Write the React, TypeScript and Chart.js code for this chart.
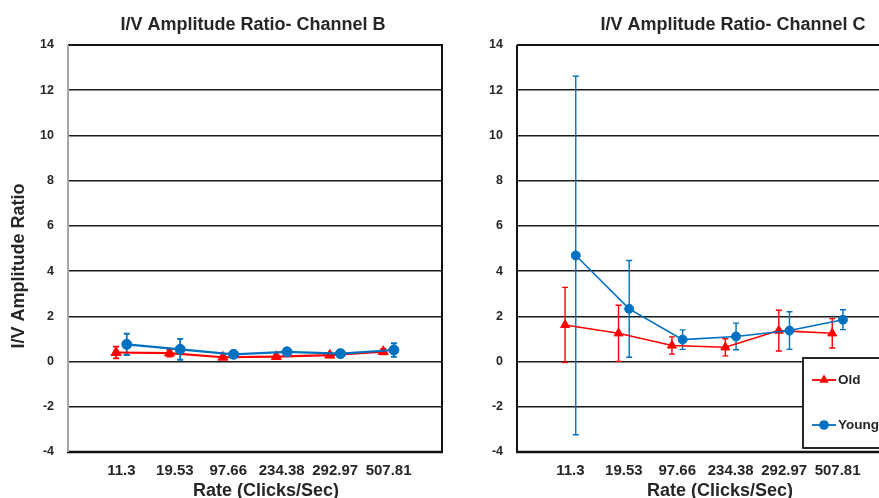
import { useEffect, useRef } from "react";
import { Chart, registerables } from "chart.js";
Chart.register(...registerables);

const rateLabels = ["11.3", "19.53", "97.66", "234.38", "292.97", "507.81"];

const oldB = [0.4, 0.37, 0.19, 0.22, 0.28, 0.44];
const oldBErr = [0.26, 0.15, 0.07, 0.07, 0.07, 0.12];
const youngB = [0.76, 0.54, 0.32, 0.43, 0.35, 0.51];
const youngBErr = [0.47, 0.46, 0.1, 0.15, 0.08, 0.3];

const oldC = [1.62, 1.25, 0.71, 0.63, 1.37, 1.25];
const oldCErr = [1.66, 1.24, 0.38, 0.38, 0.9, 0.65];
const youngC = [4.69, 2.33, 0.97, 1.11, 1.37, 1.85];
const youngCErr = [7.93, 2.14, 0.43, 0.59, 0.83, 0.44];

const RED = "#FF0000";
const BLUE = "#0070C0";
const FONT = "'Liberation Sans', Arial, sans-serif";
const TEXT = "#262626";

type TextItem = { text: string; x: number; y: number; size: number; rotate?: boolean };

type Panel = {
  left: number;
  width: number;
  axisWidth: number;
  padRight: number;
  old: number[];
  oldErr: number[];
  young: number[];
  youngErr: number[];
  leftBorder: string;
  lineWidth: number;
  circleR: number;
  triR: number;
  errWidth: number;
  texts: TextItem[];
  legend: boolean;
};

const panels: Panel[] = [
  {
    left: 0,
    width: 460,
    axisWidth: 68,
    padRight: 18,
    old: oldB,
    oldErr: oldBErr,
    young: youngB,
    youngErr: youngBErr,
    leftBorder: "#a6a6a6",
    lineWidth: 2.2,
    circleR: 5,
    triR: 5.8,
    errWidth: 1.8,
    texts: [
      { text: "I/V Amplitude Ratio- Channel B", x: 253, y: 25, size: 18 },
      { text: "I/V Amplitude Ratio", x: 19, y: 266, size: 18, rotate: true },
      { text: "Rate (Clicks/Sec)", x: 266, y: 491, size: 18 },
    ],
    legend: false,
  },
  {
    left: 460,
    width: 460,
    axisWidth: 57,
    padRight: 29,
    old: oldC,
    oldErr: oldCErr,
    young: youngC,
    youngErr: youngCErr,
    leftBorder: "#111",
    lineWidth: 1.6,
    circleR: 4.5,
    triR: 5.2,
    errWidth: 1.4,
    texts: [
      { text: "I/V Amplitude Ratio- Channel C", x: 273, y: 25, size: 18 },
      { text: "Rate (Clicks/Sec)", x: 260, y: 491, size: 18 },
    ],
    legend: true,
  },
];

function triPath(ctx: CanvasRenderingContext2D, x: number, y: number, r: number) {
  ctx.beginPath();
  ctx.moveTo(x, y - r);
  ctx.lineTo(x + r * 0.866, y + r * 0.5);
  ctx.lineTo(x - r * 0.866, y + r * 0.5);
  ctx.closePath();
}

function ChartPanel({ p }: { p: Panel }) {
  const ref = useRef<HTMLCanvasElement | null>(null);
  useEffect(() => {
    const canvas = ref.current;
    if (!canvas) return;
    const errs = [p.youngErr, p.oldErr];
    const colors = [BLUE, RED];
    const decor = {
      id: "decor",
      beforeDatasetsDraw(chart: any) {
        const ctx = chart.ctx as CanvasRenderingContext2D;
        const a = chart.chartArea;
        const ys = chart.scales.y;
        ctx.save();
        ctx.lineWidth = 2;
        ctx.strokeStyle = "#111";
        ctx.beginPath();
        ctx.moveTo(a.left, a.top);
        ctx.lineTo(a.right, a.top);
        ctx.lineTo(a.right, a.bottom);
        ctx.stroke();
        ctx.lineWidth = 2.6;
        ctx.beginPath();
        ctx.moveTo(a.left - 1, a.bottom);
        ctx.lineTo(a.right + 1, a.bottom);
        ctx.stroke();
        ctx.lineWidth = 2;
        ctx.strokeStyle = p.leftBorder;
        ctx.beginPath();
        ctx.moveTo(a.left, a.top);
        ctx.lineTo(a.left, a.bottom);
        ctx.stroke();
        errs.forEach((err, di) => {
          const meta = chart.getDatasetMeta(di);
          const vals = chart.data.datasets[di].data as { x: number; y: number }[];
          ctx.strokeStyle = colors[di];
          ctx.lineWidth = p.errWidth;
          meta.data.forEach((pt: any, i: number) => {
            const x = pt.x;
            const top = ys.getPixelForValue(vals[i].y + err[i]);
            const bot = ys.getPixelForValue(vals[i].y - err[i]);
            ctx.beginPath();
            ctx.moveTo(x, top);
            ctx.lineTo(x, bot);
            ctx.moveTo(x - 3, top);
            ctx.lineTo(x + 3, top);
            ctx.moveTo(x - 3, bot);
            ctx.lineTo(x + 3, bot);
            ctx.stroke();
          });
        });
        ctx.restore();
      },
      afterDraw(chart: any) {
        const ctx = chart.ctx as CanvasRenderingContext2D;
        ctx.save();
        ctx.fillStyle = TEXT;
        ctx.textAlign = "center";
        ctx.textBaseline = "middle";
        p.texts.forEach((t) => {
          ctx.font = `bold ${t.size}px ${FONT}`;
          if (t.rotate) {
            ctx.save();
            ctx.translate(t.x, t.y);
            ctx.rotate(-Math.PI / 2);
            ctx.fillText(t.text, 0, 0);
            ctx.restore();
          } else {
            ctx.fillText(t.text, t.x, t.y);
          }
        });
        if (p.legend) {
          const bx = 343;
          const by = 358;
          ctx.fillStyle = "#fff";
          ctx.fillRect(bx, by, 110, 90);
          ctx.strokeStyle = "#111";
          ctx.lineWidth = 1.8;
          ctx.strokeRect(bx, by, 110, 90);
          const rows = [
            { label: "Old", color: RED, tri: true, y: by + 22 },
            { label: "Young", color: BLUE, tri: false, y: by + 67 },
          ];
          rows.forEach((r) => {
            ctx.strokeStyle = r.color;
            ctx.fillStyle = r.color;
            ctx.lineWidth = 1.8;
            ctx.beginPath();
            ctx.moveTo(bx + 9, r.y);
            ctx.lineTo(bx + 33, r.y);
            ctx.stroke();
            if (r.tri) {
              triPath(ctx, bx + 21, r.y, 5.4);
            } else {
              ctx.beginPath();
              ctx.arc(bx + 21, r.y, 4.8, 0, Math.PI * 2);
            }
            ctx.fill();
            ctx.fillStyle = TEXT;
            ctx.font = `bold 13.5px ${FONT}`;
            ctx.textAlign = "left";
            ctx.fillText(r.label, bx + 35, r.y);
          });
        }
        ctx.restore();
      },
    };

    const chart = new Chart(canvas, {
      type: "scatter",
      data: {
        datasets: [
          {
            label: "Young",
            data: p.young.map((y, i) => ({ x: i + 1 + 0.1, y })),
            showLine: true,
            borderColor: BLUE,
            backgroundColor: BLUE,
            borderWidth: p.lineWidth,
            pointStyle: "circle",
            pointRadius: p.circleR,
            pointBorderWidth: 1,
          },
          {
            label: "Old",
            data: p.old.map((y, i) => ({ x: i + 1 - 0.1, y })),
            showLine: true,
            borderColor: RED,
            backgroundColor: RED,
            borderWidth: p.lineWidth,
            pointStyle: "triangle",
            pointRadius: p.triR,
            pointBorderWidth: 1,
          },
        ],
      },
      options: {
        responsive: false,
        animation: false,
        devicePixelRatio: 1,
        layout: { padding: { left: 0, right: p.padRight, top: 45, bottom: 0 } },
        plugins: {
          legend: { display: false },
          title: { display: false },
          tooltip: { enabled: false },
        },
        scales: {
          x: {
            type: "linear",
            min: 0,
            max: 7,
            grid: { display: false, drawTicks: false },
            border: { display: false },
            afterBuildTicks: (axis: any) => {
              axis.ticks = rateLabels.map((_, i) => ({ value: i + 1 }));
            },
            afterFit: (s: any) => {
              s.height = 46;
            },
            ticks: {
              autoSkip: false,
              maxRotation: 0,
              padding: 10,
              color: TEXT,
              font: { family: FONT, size: 15, weight: "bold" },
              callback: (_v: any, i: number) => rateLabels[i],
            },
          },
          y: {
            min: -4,
            max: 14,
            grid: { color: "#1a1a1a", lineWidth: 1.5, drawTicks: false },
            border: { display: false },
            afterFit: (s: any) => {
              s.width = p.axisWidth;
            },
            ticks: {
              stepSize: 2,
              padding: 14,
              color: TEXT,
              font: { family: FONT, size: 12.5, weight: "bold" },
            },
          },
        },
      },
      plugins: [decor],
    } as any);
    return () => chart.destroy();
  }, [p]);
  return (
    <canvas
      ref={ref}
      width={p.width}
      height={498}
      style={{ position: "absolute", left: p.left, top: 0, width: p.width, height: 498 }}
    />
  );
}

export default function App() {
  return (
    <div
      style={{
        position: "fixed",
        left: 0,
        top: 0,
        width: 879,
        height: 498,
        overflow: "hidden",
        background: "#fff",
      }}
    >
      {panels.map((p, i) => (
        <ChartPanel key={i} p={p} />
      ))}
    </div>
  );
}
